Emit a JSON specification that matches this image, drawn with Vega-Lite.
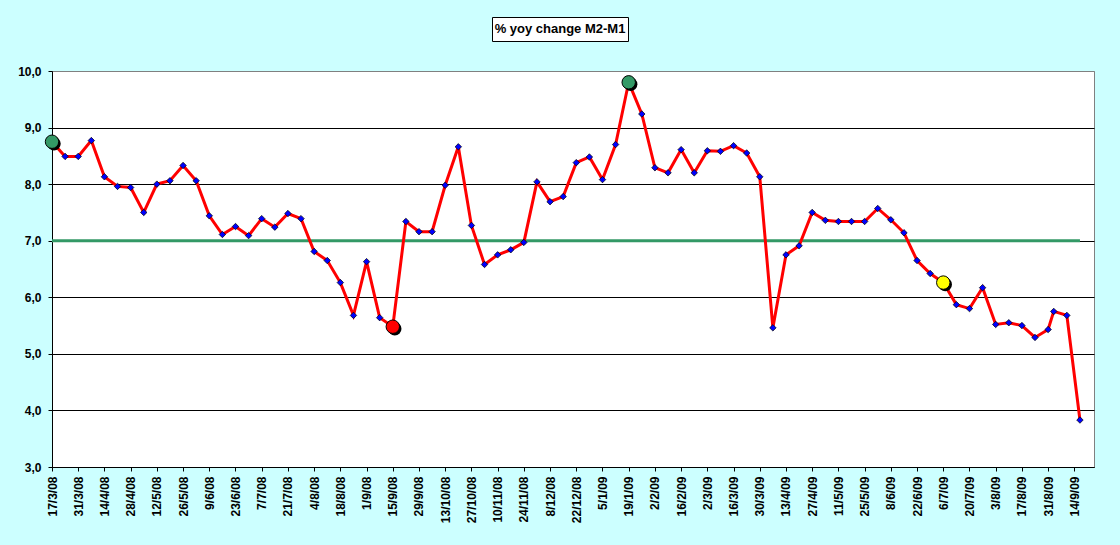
{
  "$schema": "https://vega.github.io/schema/vega-lite/v6.json",
  "background": "#CCFFFF",
  "padding": {"left": 17, "top": 16, "right": 26, "bottom": 22},
  "spacing": 22,
  "config": {
    "font": "Liberation Sans",
    "axis": {"labelFont": "Liberation Sans", "labelFontWeight": "bold", "labelFontSize": 12, "labelColor": "black", "domainColor": "black", "tickColor": "black", "domainWidth": 1, "tickWidth": 1, "title": null}
  },
  "vconcat": [
    {
      "spacing": 0,
      "hconcat": [
        {
          "width": 439,
          "height": 24,
          "view": {"stroke": null, "fill": null},
          "data": {"values": [{"label": ""}]},
          "mark": {"type": "text", "opacity": 0},
          "encoding": {"text": {"field": "label", "type": "nominal"}}
        },
        {
          "width": 136,
          "height": 24,
          "view": {"fill": "white", "stroke": "black", "strokeWidth": 1},
          "data": {"values": [{"label": "% yoy change M2-M1"}]},
          "mark": {"type": "text", "font": "Liberation Sans", "fontWeight": "bold", "fontSize": 13, "color": "black"},
          "encoding": {"text": {"field": "label", "type": "nominal"}}
        }
      ]
    },
    {
      "width": 1042,
      "height": 396,
      "view": {"fill": "white", "stroke": "#808080", "strokeWidth": 1},
      "data": {"values": [
        {"date": "2008-03-17", "value": 8.75, "highlight": "start"},
        {"date": "2008-03-24", "value": 8.49},
        {"date": "2008-03-31", "value": 8.49},
        {"date": "2008-04-07", "value": 8.77},
        {"date": "2008-04-14", "value": 8.13},
        {"date": "2008-04-21", "value": 7.96},
        {"date": "2008-04-28", "value": 7.94},
        {"date": "2008-05-05", "value": 7.50},
        {"date": "2008-05-12", "value": 8.00},
        {"date": "2008-05-19", "value": 8.06},
        {"date": "2008-05-26", "value": 8.33},
        {"date": "2008-06-02", "value": 8.06},
        {"date": "2008-06-09", "value": 7.44},
        {"date": "2008-06-16", "value": 7.11},
        {"date": "2008-06-23", "value": 7.25},
        {"date": "2008-06-30", "value": 7.09},
        {"date": "2008-07-07", "value": 7.39},
        {"date": "2008-07-14", "value": 7.24},
        {"date": "2008-07-21", "value": 7.48},
        {"date": "2008-07-28", "value": 7.39},
        {"date": "2008-08-04", "value": 6.81},
        {"date": "2008-08-11", "value": 6.65},
        {"date": "2008-08-18", "value": 6.26},
        {"date": "2008-08-25", "value": 5.68},
        {"date": "2008-09-01", "value": 6.63},
        {"date": "2008-09-08", "value": 5.64},
        {"date": "2008-09-15", "value": 5.48, "highlight": "low"},
        {"date": "2008-09-22", "value": 7.34},
        {"date": "2008-09-29", "value": 7.16},
        {"date": "2008-10-06", "value": 7.16},
        {"date": "2008-10-13", "value": 7.98},
        {"date": "2008-10-20", "value": 8.66},
        {"date": "2008-10-27", "value": 7.27},
        {"date": "2008-11-03", "value": 6.58},
        {"date": "2008-11-10", "value": 6.75},
        {"date": "2008-11-17", "value": 6.84},
        {"date": "2008-11-24", "value": 6.97},
        {"date": "2008-12-01", "value": 8.04},
        {"date": "2008-12-08", "value": 7.69},
        {"date": "2008-12-15", "value": 7.78},
        {"date": "2008-12-22", "value": 8.38},
        {"date": "2008-12-29", "value": 8.48},
        {"date": "2009-01-05", "value": 8.08},
        {"date": "2009-01-12", "value": 8.70},
        {"date": "2009-01-19", "value": 9.80, "highlight": "peak"},
        {"date": "2009-01-26", "value": 9.24},
        {"date": "2009-02-02", "value": 8.29},
        {"date": "2009-02-09", "value": 8.20},
        {"date": "2009-02-16", "value": 8.61},
        {"date": "2009-02-23", "value": 8.20},
        {"date": "2009-03-02", "value": 8.59},
        {"date": "2009-03-09", "value": 8.58},
        {"date": "2009-03-16", "value": 8.68},
        {"date": "2009-03-23", "value": 8.55},
        {"date": "2009-03-30", "value": 8.13},
        {"date": "2009-04-06", "value": 5.46},
        {"date": "2009-04-13", "value": 6.75},
        {"date": "2009-04-20", "value": 6.91},
        {"date": "2009-04-27", "value": 7.50},
        {"date": "2009-05-04", "value": 7.36},
        {"date": "2009-05-11", "value": 7.34},
        {"date": "2009-05-18", "value": 7.34},
        {"date": "2009-05-25", "value": 7.34},
        {"date": "2009-06-01", "value": 7.57},
        {"date": "2009-06-08", "value": 7.37},
        {"date": "2009-06-15", "value": 7.14},
        {"date": "2009-06-22", "value": 6.65},
        {"date": "2009-06-29", "value": 6.42},
        {"date": "2009-07-06", "value": 6.26, "highlight": "latest"},
        {"date": "2009-07-13", "value": 5.87},
        {"date": "2009-07-20", "value": 5.80},
        {"date": "2009-07-27", "value": 6.17},
        {"date": "2009-08-03", "value": 5.52},
        {"date": "2009-08-10", "value": 5.55},
        {"date": "2009-08-17", "value": 5.50},
        {"date": "2009-08-24", "value": 5.29},
        {"date": "2009-08-31", "value": 5.43},
        {"date": "2009-09-03", "value": 5.75},
        {"date": "2009-09-10", "value": 5.68},
        {"date": "2009-09-17", "value": 3.83}
      ]},
      "encoding": {
        "x": {
          "field": "date", "type": "temporal",
          "scale": {"type": "utc", "domain": [{"year": 2008, "month": 3, "date": 17, "utc": true}, {"year": 2009, "month": 9, "date": 24, "hours": 12, "utc": true}]},
          "axis": {
            "labelExpr": "utcFormat(datum.value, '%-d/%-m/%y')", "labelAngle": -90, "tickSize": 4, "labelPadding": 5, "grid": false,
            "labelOverlap": false, "labelFlush": false, "labelBound": false,
            "values": [
              {"year": 2008, "month": 3, "date": 17, "utc": true}, {"year": 2008, "month": 3, "date": 31, "utc": true},
              {"year": 2008, "month": 4, "date": 14, "utc": true}, {"year": 2008, "month": 4, "date": 28, "utc": true},
              {"year": 2008, "month": 5, "date": 12, "utc": true}, {"year": 2008, "month": 5, "date": 26, "utc": true},
              {"year": 2008, "month": 6, "date": 9, "utc": true}, {"year": 2008, "month": 6, "date": 23, "utc": true},
              {"year": 2008, "month": 7, "date": 7, "utc": true}, {"year": 2008, "month": 7, "date": 21, "utc": true},
              {"year": 2008, "month": 8, "date": 4, "utc": true}, {"year": 2008, "month": 8, "date": 18, "utc": true},
              {"year": 2008, "month": 9, "date": 1, "utc": true}, {"year": 2008, "month": 9, "date": 15, "utc": true},
              {"year": 2008, "month": 9, "date": 29, "utc": true}, {"year": 2008, "month": 10, "date": 13, "utc": true},
              {"year": 2008, "month": 10, "date": 27, "utc": true}, {"year": 2008, "month": 11, "date": 10, "utc": true},
              {"year": 2008, "month": 11, "date": 24, "utc": true}, {"year": 2008, "month": 12, "date": 8, "utc": true},
              {"year": 2008, "month": 12, "date": 22, "utc": true}, {"year": 2009, "month": 1, "date": 5, "utc": true},
              {"year": 2009, "month": 1, "date": 19, "utc": true}, {"year": 2009, "month": 2, "date": 2, "utc": true},
              {"year": 2009, "month": 2, "date": 16, "utc": true}, {"year": 2009, "month": 3, "date": 2, "utc": true},
              {"year": 2009, "month": 3, "date": 16, "utc": true}, {"year": 2009, "month": 3, "date": 30, "utc": true},
              {"year": 2009, "month": 4, "date": 13, "utc": true}, {"year": 2009, "month": 4, "date": 27, "utc": true},
              {"year": 2009, "month": 5, "date": 11, "utc": true}, {"year": 2009, "month": 5, "date": 25, "utc": true},
              {"year": 2009, "month": 6, "date": 8, "utc": true}, {"year": 2009, "month": 6, "date": 22, "utc": true},
              {"year": 2009, "month": 7, "date": 6, "utc": true}, {"year": 2009, "month": 7, "date": 20, "utc": true},
              {"year": 2009, "month": 8, "date": 3, "utc": true}, {"year": 2009, "month": 8, "date": 17, "utc": true},
              {"year": 2009, "month": 8, "date": 31, "utc": true}, {"year": 2009, "month": 9, "date": 14, "utc": true}
            ]
          }
        },
        "y": {
          "field": "value", "type": "quantitative",
          "scale": {"domain": [3, 10], "nice": false, "zero": false},
          "axis": {
            "values": [3, 4, 5, 6, 7, 8, 9, 10],
            "labelExpr": "replace(format(datum.value, '.1f'), '.', ',')",
            "tickSize": 4, "labelPadding": 7,
            "grid": true, "gridWidth": 1,
            "gridColor": {"condition": {"test": "datum.value === 10", "value": "#808080"}, "value": "black"}
          }
        }
      },
      "layer": [
        {
          "mark": {"type": "line", "color": "#339966", "strokeWidth": 3},
          "encoding": {"y": {"datum": 7, "type": "quantitative"}}
        },
        {
          "mark": {"type": "line", "color": "#FF0000", "strokeWidth": 3}
        },
        {
          "mark": {"type": "point", "shape": "diamond", "filled": true, "fill": "#0000FF", "stroke": "black", "strokeWidth": 0.7, "size": 42, "opacity": 1}
        },
        {
          "transform": [{"filter": "isValid(datum.highlight)"}],
          "mark": {"type": "circle", "color": "black", "size": 180, "opacity": 1},
          "encoding": {"xOffset": {"value": 2}, "yOffset": {"value": 2}}
        },
        {
          "transform": [{"filter": "isValid(datum.highlight)"}],
          "mark": {"type": "point", "shape": "circle", "filled": true, "stroke": "black", "strokeWidth": 1, "size": 180, "opacity": 1},
          "encoding": {
            "fill": {
              "field": "highlight", "type": "nominal", "legend": null,
              "scale": {"domain": ["start", "low", "peak", "latest"], "range": ["#339966", "#FF0000", "#339966", "#FFFF00"]}
            }
          }
        }
      ]
    }
  ]
}
